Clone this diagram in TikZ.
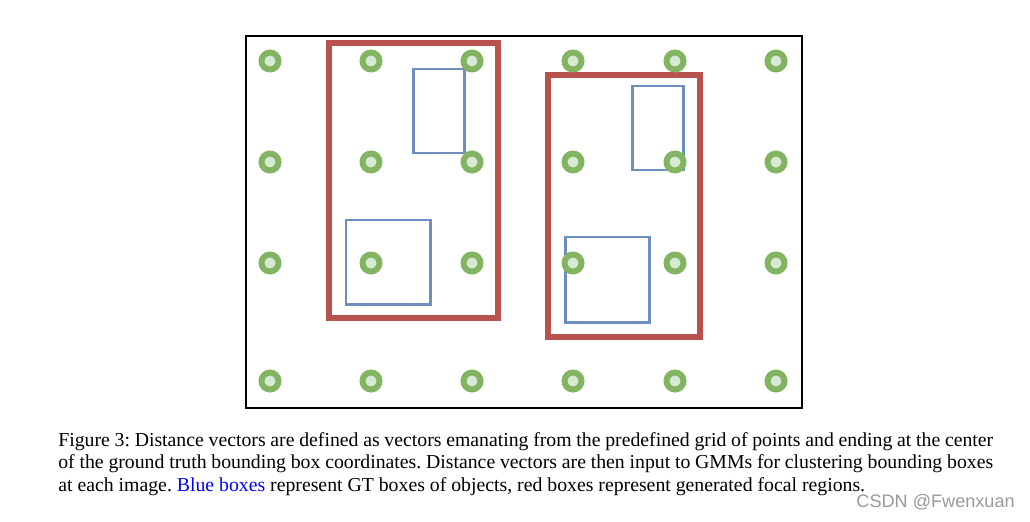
\documentclass[tikz,border=0pt]{standalone}
\usepackage{fontspec}
\setmainfont{Liberation Serif}
\newfontfamily\marksans{Liberation Sans}
\definecolor{DotGreen}{RGB}{130,180,98}
\definecolor{DotLight}{RGB}{214,233,211}
\definecolor{FocalRed}{RGB}{185,82,78}
\definecolor{GTBlue}{RGB}{108,142,192}
\definecolor{LinkBlue}{RGB}{0,0,255}
\usetikzlibrary{positioning}

\begin{document}
\begin{tikzpicture}[x=0.02cm, y=-0.02cm,
	gridpt/.style={circle, draw=DotGreen, line width=3.4pt, fill=DotLight, inner sep=0pt, minimum size=0.34cm},
	focal/.style={draw=FocalRed, line width=3.4pt},
	gtbox/.style={draw=GTBlue, line width=1.7pt}]
	\useasboundingbox (0,0) rectangle (1030,521);
	% image frame
	\draw[line width=0.85pt] (246,36) rectangle (802,408);
	% generated focal regions
	\draw[focal] (329,43) rectangle (498,318);
	\draw[focal] (548,75) rectangle (700,337);
	% GT boxes
	\draw[gtbox] (413,69) rectangle (464,153);
	\draw[gtbox] (346,220) rectangle (430,304);
	\draw[gtbox] (632,86) rectangle (683,170);
	\draw[gtbox] (565,237) rectangle (649,322);
	% predefined grid of points
	\foreach \row/\y in {1/61, 2/162, 3/263, 4/381}
		\foreach \col/\x in {1/270, 2/371, 3/472, 4/573, 5/675, 6/776}
			\node[gridpt] (p\row\col) at (\x,\y) {};
	% caption
	\node[anchor=north west, inner sep=0pt, text width=18.7cm, align=justify,
		font=\fontsize{11.25pt}{12.9pt}\selectfont\frenchspacing] (caption) at (58,432) {%
		Figure 3: Distance vectors are defined as vectors emanating from the predefined grid of points and ending at the center\linebreak
		of the ground truth bounding box coordinates. Distance vectors are then input to GMMs for clustering bounding boxes\linebreak
		at each image. \textcolor{LinkBlue}{Blue boxes} represent GT boxes of objects, red boxes represent generated focal regions.};
	\node[anchor=north east, inner sep=0pt, text=gray!80, font=\marksans\fontsize{10.3pt}{12pt}\selectfont] (mark) at (1015,494) {CSDN @Fwenxuan};
\end{tikzpicture}
\end{document}
